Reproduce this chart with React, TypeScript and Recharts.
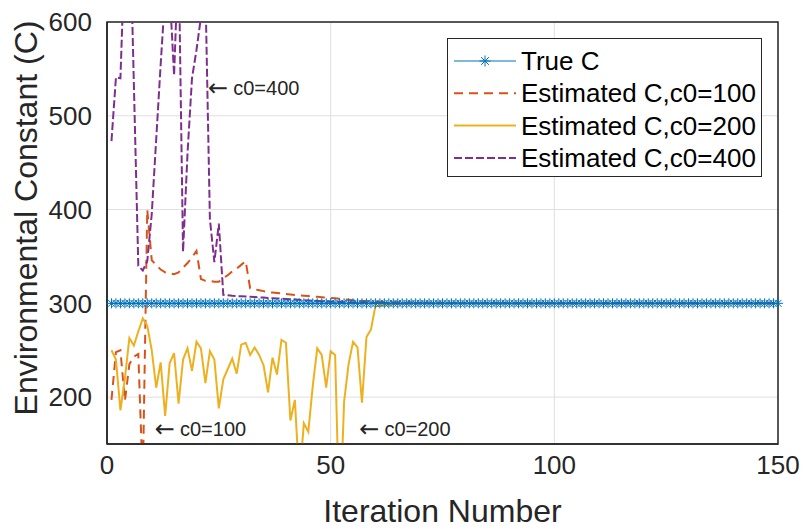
import { LineChart, Line, XAxis, YAxis, CartesianGrid, Legend, ReferenceArea, ReferenceDot } from "recharts"

// values, one per iteration (1..150)
const trueC = [
    300, 300, 300, 300, 300, 300, 300, 300, 300, 300,
    300, 300, 300, 300, 300, 300, 300, 300, 300, 300,
    300, 300, 300, 300, 300, 300, 300, 300, 300, 300,
    300, 300, 300, 300, 300, 300, 300, 300, 300, 300,
    300, 300, 300, 300, 300, 300, 300, 300, 300, 300,
    300, 300, 300, 300, 300, 300, 300, 300, 300, 300,
    300, 300, 300, 300, 300, 300, 300, 300, 300, 300,
    300, 300, 300, 300, 300, 300, 300, 300, 300, 300,
    300, 300, 300, 300, 300, 300, 300, 300, 300, 300,
    300, 300, 300, 300, 300, 300, 300, 300, 300, 300,
    300, 300, 300, 300, 300, 300, 300, 300, 300, 300,
    300, 300, 300, 300, 300, 300, 300, 300, 300, 300,
    300, 300, 300, 300, 300, 300, 300, 300, 300, 300,
    300, 300, 300, 300, 300, 300, 300, 300, 300, 300,
    300, 300, 300, 300, 300, 300, 300, 300, 300, 300,
]

const estC100 = [
    197, 248, 250, 196, 235, 243, 246, 110, 400, 346,
    341, 336, 333, 332, 331, 333, 338, 343, 349, 356,
    326, 324, 324, 323, 323, 327, 330, 334, 337, 341,
    345, 316, 315, 314, 313, 312, 311.5, 311, 310.5, 310,
    309.5, 309, 308.6, 308.2, 307.8, 307.4, 307, 306.6, 306.2, 305.8,
    305.4, 305, 304.4, 303.8, 303.2, 302.8, 302.4, 302.1, 301.9, 301.7,
    301.5, 301.4, 301.3, 301.2, 301.1, 301, 300.9, 300.9, 300.8, 300.8,
    300.7, 300.7, 300.6, 300.6, 300.5, 300.5, 300.5, 300.4, 300.4, 300.4,
    300.3, 300.3, 300.3, 300.3, 300.2, 300.2, 300.2, 300.2, 300.2, 300.2,
    300.1, 300.1, 300.1, 300.1, 300.1, 300.1, 300.1, 300.1, 300.1, 300.1,
    300, 300, 300, 300, 300, 300, 300, 300, 300, 300,
    300, 300, 300, 300, 300, 300, 300, 300, 300, 300,
    300, 300, 300, 300, 300, 300, 300, 300, 300, 300,
    300, 300, 300, 300, 300, 300, 300, 300, 300, 300,
    300, 300, 300, 300, 300, 300, 300, 300, 300, 300,
]

const estC200 = [
    250, 240, 186, 220, 263, 255, 270, 284, 276, 250,
    210, 237, 180, 236, 247, 193, 240, 252, 228, 259,
    252, 215, 249, 240, 188, 219, 230, 241, 225, 256,
    258, 245, 253, 245, 234, 205, 242, 224, 261, 258,
    175, 197, 110, 172, 163, 212, 252, 245, 210, 249,
    245, 60, 195, 235, 259, 253, 194, 264, 272, 297,
    297.5, 298, 298.5, 299, 299.3, 299.5, 299.7, 299.8, 299.9, 300,
    300, 300, 300, 300, 300, 300, 300, 300, 300, 300,
    300, 300, 300, 300, 300, 300, 300, 300, 300, 300,
    300, 300, 300, 300, 300, 300, 300, 300, 300, 300,
    300, 300, 300, 300, 300, 300, 300, 300, 300, 300,
    300, 300, 300, 300, 300, 300, 300, 300, 300, 300,
    300, 300, 300, 300, 300, 300, 300, 300, 300, 300,
    300, 300, 300, 300, 300, 300, 300, 300, 300, 300,
    300, 300, 300, 300, 300, 300, 300, 300, 300, 300,
]

const estC400 = [
    473, 541, 540, 680, 730, 535, 340, 335, 345, 395,
    475, 555, 630, 634, 543, 677, 355, 460, 540, 570,
    605, 635, 390, 344, 385, 309, 308.5, 308, 307.8, 307.5,
    307.2, 307, 306.7, 306.4, 306.1, 305.8, 305.5, 305.2, 304.9, 304.6,
    304.3, 304, 303.7, 303.4, 303.1, 302.8, 302.5, 302.2, 302, 301.8,
    301.6, 301.4, 301.2, 301, 300.9, 300.8, 300.7, 300.6, 300.5, 300.4,
    300.3, 300.3, 300.2, 300.2, 300.1, 300.1, 300.1, 300, 300, 300,
    300, 300, 300, 300, 300, 300, 300, 300, 300, 300,
    300, 300, 300, 300, 300, 300, 300, 300, 300, 300,
    300, 300, 300, 300, 300, 300, 300, 300, 300, 300,
    300, 300, 300, 300, 300, 300, 300, 300, 300, 300,
    300, 300, 300, 300, 300, 300, 300, 300, 300, 300,
    300, 300, 300, 300, 300, 300, 300, 300, 300, 300,
    300, 300, 300, 300, 300, 300, 300, 300, 300, 300,
    300, 300, 300, 300, 300, 300, 300, 300, 300, 300,
]

const xTicks = [0, 50, 100, 150]
const yTicks = [200, 300, 400, 500, 600]

const seriesNames = ["True C", "Estimated C,c0=100", "Estimated C,c0=200", "Estimated C,c0=400"]

// text arrows pointing at the curves (iteration, value)
const notes = [
    { x: 22.6, y: 530, text: "c0=400" },
    { x: 10.7, y: 166, text: "c0=100" },
    { x: 56.4, y: 166, text: "c0=200" },
]

const data = trueC.map((v, i) => ({
    iter: i + 1,
    trueC: v,
    c100: estC100[i],
    c200: estC200[i],
    c400: estC400[i],
}))

const FONT = "'Liberation Sans', Arial, Helvetica, sans-serif"
const AX = "#262626"
const BLUE = "#0072BD"
const ORANGE = "#D95319"
const YELLOW = "#EDB120"
const PURPLE = "#7E2F8E"

const starPath = (cx: number, cy: number, s: number) => {
    const d = s * 0.7
    return `M${cx - s} ${cy}h${2 * s}M${cx} ${cy - s}v${2 * s}M${cx - d} ${cy - d}l${2 * d} ${2 * d}M${cx - d} ${cy + d}l${2 * d} ${-2 * d}`
}

const Star = (props: any) => {
    const { cx, cy, index } = props
    if (cx == null || cy == null) return <g key={`s-${index}`} />
    return <path key={`s-${index}`} d={starPath(cx, cy, 5)} stroke={BLUE} strokeWidth={1} fill="none" />
}

const legendStyles = [
    { color: BLUE, dash: undefined, star: true },
    { color: ORANGE, dash: "9 6", star: false },
    { color: YELLOW, dash: undefined, star: false },
    { color: PURPLE, dash: "8 3", star: false },
]

const LegendBox = () => (
    <div style={{ width: 313, height: 137, border: `1px solid ${AX}`, background: "#fff" }}>
        <svg width={313} height={137} style={{ display: "block" }}>
            {seriesNames.map((name, i) => {
                const y = 22 + i * 32.3
                const st = legendStyles[i]
                return (
                    <g key={name}>
                        <line x1={6} x2={68} y1={y} y2={y} stroke={st.color} strokeWidth={i === 0 ? 1 : 2} strokeDasharray={st.dash} />
                        {st.star && <path d={starPath(37, y, 5.5)} stroke={st.color} strokeWidth={1} fill="none" />}
                        <text x={73} y={y} dominantBaseline="central" fontSize={26} fontFamily={FONT} fill="#000">{name}</text>
                    </g>
                )
            })}
        </svg>
    </div>
)

const YLabel = (props: any) => {
    const { viewBox } = props
    const x = viewBox.x + 27
    const y = viewBox.y + viewBox.height / 2 - 15
    return (
        <text x={x} y={y} transform={`rotate(-90, ${x}, ${y})`} textAnchor="middle" fontSize={32} fontFamily={FONT} fill={AX}>
            Environmental Constant (C)
        </text>
    )
}

const Note = (props: any) => {
    const { cx, cy, text } = props
    return (
        <text x={cx} y={cy} dominantBaseline="central" fontSize={20} fontFamily={FONT} fill={AX}>
            <tspan fontFamily="'DejaVu Sans', sans-serif" fontSize={24}>←</tspan>
            <tspan dx={5}>{text}</tspan>
        </text>
    )
}

const App = () => {
    return (
        <div style={{ position: "absolute", left: 0, top: 0, background: "#fff" }}>
            <LineChart width={804} height={529} data={data} margin={{ top: 22, right: 26, bottom: 0, left: 10 }}>
                <CartesianGrid stroke="#dfdfdf" strokeWidth={1} />
                <XAxis
                    dataKey="iter"
                    type="number"
                    domain={[0, 150]}
                    ticks={xTicks}
                    height={85}
                    tickLine={false}
                    tickMargin={6}
                    axisLine={{ stroke: AX, strokeWidth: 1.5 }}
                    tick={{ fill: AX, fontSize: 26, fontFamily: FONT }}
                    label={{ value: "Iteration Number", position: "insideBottom", offset: 7, fill: AX, fontSize: 32, fontFamily: FONT }}
                />
                <YAxis
                    type="number"
                    domain={[150, 600]}
                    ticks={yTicks}
                    allowDataOverflow
                    width={97}
                    tickLine={false}
                    tickMargin={9}
                    axisLine={{ stroke: AX, strokeWidth: 1.5 }}
                    tick={{ fill: AX, fontSize: 26, fontFamily: FONT }}
                    label={{ content: YLabel }}
                />
                <ReferenceArea x1={0} x2={150} y1={150} y2={600} fill="none" stroke={AX} strokeWidth={1.5} />
                <Legend
                    layout="vertical"
                    align="center"
                    verticalAlign="middle"
                    width={315}
                    height={139}
                    wrapperStyle={{ left: 447, top: 38, width: 315, height: 139 }}
                    content={() => <LegendBox />}
                />
                <Line type="linear" dataKey="trueC" stroke={BLUE} strokeWidth={1} dot={Star} isAnimationActive={false} />
                <Line type="linear" dataKey="c100" stroke={ORANGE} strokeWidth={2} strokeDasharray="9 6" dot={false} isAnimationActive={false} />
                <Line type="linear" dataKey="c200" stroke={YELLOW} strokeWidth={2} dot={false} isAnimationActive={false} />
                <Line type="linear" dataKey="c400" stroke={PURPLE} strokeWidth={2} strokeDasharray="8 3" dot={false} isAnimationActive={false} />
                {notes.map((n) => (
                    <ReferenceDot key={n.text} x={n.x} y={n.y} r={0} shape={(p: any) => <Note {...p} text={n.text} />} />
                ))}
            </LineChart>
        </div>
    )
}

export default App
